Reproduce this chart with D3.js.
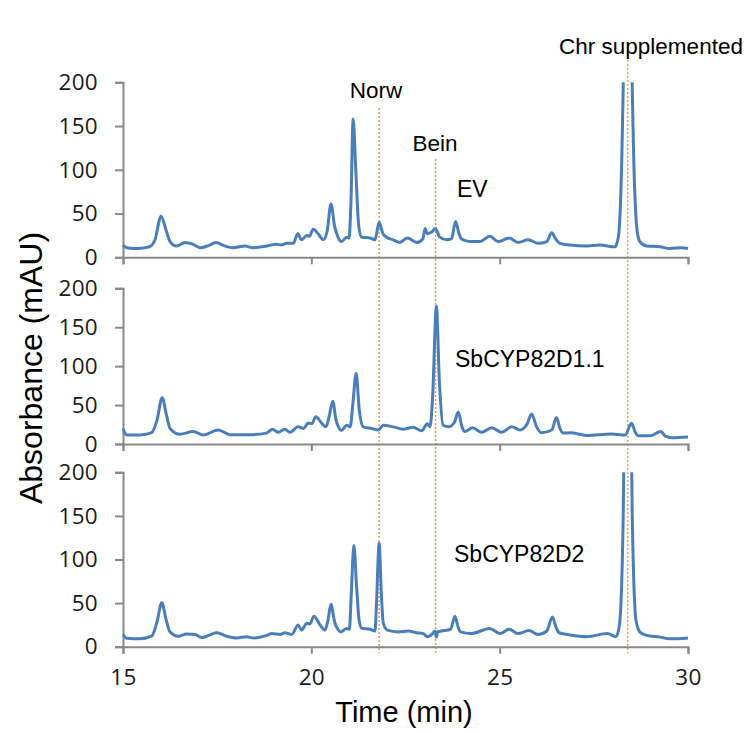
<!DOCTYPE html>
<html>
<head>
<meta charset="utf-8">
<script src="https://cdn.jsdelivr.net/npm/d3@7"></script>
<style>
  body { margin: 0; background: #fff; }
  .tick text { font-family: "Open Sans", sans-serif; font-size: 22.5px; fill: #1a1a1a; letter-spacing: 0.3px; }
  .domain, .tick line { stroke: #888; stroke-width: 2px; }
</style>
</head>
<body>
<div id="my_dataviz"></div>
<script>
// chromatogram traces, [time (min), absorbance (mAU)]
var evTrace = [[15.00,14],[15.1,11],[15.4,10],[15.7,12],[15.85,20],[16.01,47],[16.15,30],[16.25,18],[16.42,13],[16.65,17],[16.85,15],[17.05,11],[17.25,13],[17.47,17],[17.7,13],[17.92,11],[18.24,13],[18.45,11],[18.82,13],[19.08,15],[19.2,14],[19.35,16],[19.52,16],[19.64,27],[19.74,20],[19.88,25],[19.95,24],[20.05,32],[20.18,27],[20.32,20],[20.42,30],[20.52,61],[20.62,35],[20.72,22],[20.8,18],[20.94,23],[21.0,22],[21.05,60],[21.11,158],[21.18,100],[21.26,35],[21.34,23],[21.56,22],[21.69,20],[21.8,40],[21.9,27],[22.0,23],[22.17,20],[22.35,17],[22.55,22],[22.8,17],[22.96,21],[23.02,33],[23.08,27],[23.2,29],[23.29,33],[23.41,23],[23.59,20],[23.72,21],[23.83,41],[23.92,27],[23.99,21],[24.21,18],[24.48,18],[24.74,24],[24.96,18],[25.25,22],[25.49,17],[25.76,20],[26.02,16],[26.25,18],[26.38,28],[26.5,20],[26.6,16],[26.87,14],[27.31,13],[27.66,14],[28.06,12],[28.15,23],[28.26,150],[28.30,260],[28.40,1200],[28.50,260],[28.54,150],[28.65,30],[28.72,18],[28.9,13],[29.26,12],[29.52,10],[29.83,11],[30,10]];

var d11Trace = [[15,20],[15.1,11.5],[15.45,11.5],[15.76,14.5],[15.9,30],[16.04,59.5],[16.15,38],[16.25,20],[16.51,12.5],[16.87,16],[17.13,11.5],[17.53,18],[17.84,12],[18.37,12],[18.81,14],[18.97,19],[19.12,15],[19.3,19],[19.43,15],[19.65,22],[19.79,20],[19.92,27],[20.01,26],[20.12,35],[20.27,27],[20.39,22],[20.47,35],[20.57,55],[20.65,32],[20.72,22],[20.8,17.5],[20.94,24],[21.03,22],[21.1,50],[21.19,91],[21.27,45],[21.38,22],[21.6,20],[21.78,18],[21.91,24],[22.17,22],[22.44,19],[22.7,21.5],[22.93,17],[23.08,26],[23.15,22],[23.22,60],[23.32,177],[23.4,80],[23.5,24],[23.64,22],[23.8,28],[23.9,41],[24.0,22],[24.08,16],[24.28,21],[24.52,15],[24.79,21],[25.05,15],[25.32,22],[25.54,18],[25.72,25],[25.85,38.5],[25.98,22],[26.11,14.5],[26.38,18],[26.51,34],[26.6,20],[26.69,14],[26.87,14.5],[27.31,11],[27.97,13],[28.33,11.5],[28.5,26.5],[28.6,15],[28.68,10.5],[28.99,10.5],[29.28,16],[29.4,10],[29.57,8],[30,9]];

var d2Trace = [[15,14],[15.1,9.6],[15.45,9],[15.76,12],[15.9,28],[16.03,50.5],[16.15,30],[16.25,17],[16.47,12],[16.69,14.5],[16.91,14],[17.09,10.5],[17.49,16],[17.75,12],[18.02,10],[18.28,11.5],[18.46,10],[18.82,13],[18.95,15],[19.17,14],[19.3,16],[19.48,14],[19.65,25],[19.74,19],[19.88,27],[19.96,26],[20.07,35],[20.23,25],[20.36,19],[20.44,30],[20.52,48.6],[20.62,28],[20.72,19],[20.78,17],[20.94,21],[21.01,20],[21.06,60],[21.13,116],[21.2,70],[21.27,30],[21.34,21],[21.56,20],[21.69,18],[21.73,50],[21.8,118.5],[21.86,60],[21.91,27],[22.02,19],[22.31,17],[22.57,18],[22.8,16],[22.97,15],[23.08,11.5],[23.22,15],[23.28,18],[23.32,11],[23.35,17],[23.46,18],[23.7,20],[23.81,35],[23.9,22],[23.96,17],[24.25,15],[24.74,21],[25.01,15],[25.25,20],[25.49,15],[25.78,18.5],[26.02,14],[26.25,18],[26.4,34],[26.5,22],[26.58,16],[26.87,13.5],[27.31,11.5],[27.86,15],[28.09,11.5],[28.18,25],[28.28,150],[28.31,260],[28.40,1200],[28.49,260],[28.52,150],[28.62,30],[28.72,17],[28.9,13],[29.26,11],[29.52,9],[30,10]];

var sampleNames = ["EV", "SbCYP82D1.1", "SbCYP82D2"];
var traces = [evTrace, d11Trace, d2Trace];

// reference standards (dotted lines)
var standardNames = ["Norw", "Bein", "Chr supplemented"];
var standardTimes = [21.8, 23.3, 28.4];

var xTicks = [15, 20, 25, 30];
var yTicks = [0, 50, 100, 150, 200];

// layout
var margin = { left: 123, right: 67 },
    width = 755 - margin.left - margin.right;
var panelTop = [82.3, 288.3, 472.3],
    panelBottom = [257.3, 444, 646.7];
var sampleLabelPos = [[457, 197], [455, 367], [454, 562]];
var standardLabelPos = [[376, 98], [435, 151], [651, 54]];
var standardLineTop = [108, 159, 60];

var svg = d3.select("#my_dataviz")
    .append("svg")
    .attr("width", 755)
    .attr("height", 733);

var x = d3.scaleLinear()
    .domain([15, 30])
    .range([margin.left, margin.left + width]);

var line = d3.line()
    .x(function (d) { return x(d[0]); })
    .curve(d3.curveMonotoneX);

// dotted standard lines
svg.selectAll("standardLines")
    .data(standardTimes)
    .enter()
    .append("line")
    .attr("x1", function (d) { return x(d); })
    .attr("x2", function (d) { return x(d); })
    .attr("y1", function (d, i) { return standardLineTop[i]; })
    .attr("y2", 653)
    .style("stroke", "#F79646")
    .style("stroke-width", 1.5)
    .style("stroke-dasharray", "2,2");

traces.forEach(function (trace, i) {
    var y = d3.scaleLinear()
        .domain([0, 200])
        .range([panelBottom[i], panelTop[i]]);

    // Add X axis
    svg.append("g")
        .attr("transform", "translate(0," + panelBottom[i] + ")")
        .call(d3.axisBottom(x).tickValues(xTicks).tickSize(7).tickPadding(15)
            .tickFormat(i == 2 ? d3.format("d") : ""))
        .call(function (g) { g.selectAll("text").attr("dy", "0.71em"); });

    // Add Y axis
    svg.append("g")
        .attr("transform", "translate(" + margin.left + ",0)")
        .call(d3.axisLeft(y).tickValues(yTicks).tickSize(8).tickPadding(17));

    svg.append("clipPath")
        .attr("id", "clip" + i)
        .append("rect")
        .attr("x", margin.left - 5)
        .attr("y", panelTop[i])
        .attr("width", width + 10)
        .attr("height", panelBottom[i] - panelTop[i] + 20);

    svg.append("path")
        .datum(trace)
        .attr("clip-path", "url(#clip" + i + ")")
        .attr("fill", "none")
        .attr("stroke", "#4A7EBB")
        .attr("stroke-width", 3)
        .attr("stroke-linejoin", "round")
        .attr("d", line.y(function (d) { return y(d[1]); }));

    svg.append("text")
        .attr("x", sampleLabelPos[i][0])
        .attr("y", sampleLabelPos[i][1])
        .style("font-family", "Liberation Sans, Arial, sans-serif")
        .style("font-size", "23px")
        .text(sampleNames[i]);
});

svg.selectAll("standardLabels")
    .data(standardNames)
    .enter()
    .append("text")
    .attr("x", function (d, i) { return standardLabelPos[i][0]; })
    .attr("y", function (d, i) { return standardLabelPos[i][1]; })
    .attr("text-anchor", "middle")
    .style("font-family", "Liberation Sans, Arial, sans-serif")
    .style("font-size", "22.5px")
    .text(function (d) { return d; });

// axis titles
svg.append("text")
    .attr("x", 404)
    .attr("y", 722)
    .attr("text-anchor", "middle")
    .style("font-family", "Liberation Sans, Arial, sans-serif")
    .style("font-size", "29px")
    .text("Time (min)");

svg.append("text")
    .attr("transform", "translate(42,368) rotate(-90)")
    .attr("text-anchor", "middle")
    .style("font-family", "Liberation Sans, Arial, sans-serif")
    .style("font-size", "32px")
    .text("Absorbance (mAU)");
</script>
</body>
</html>
